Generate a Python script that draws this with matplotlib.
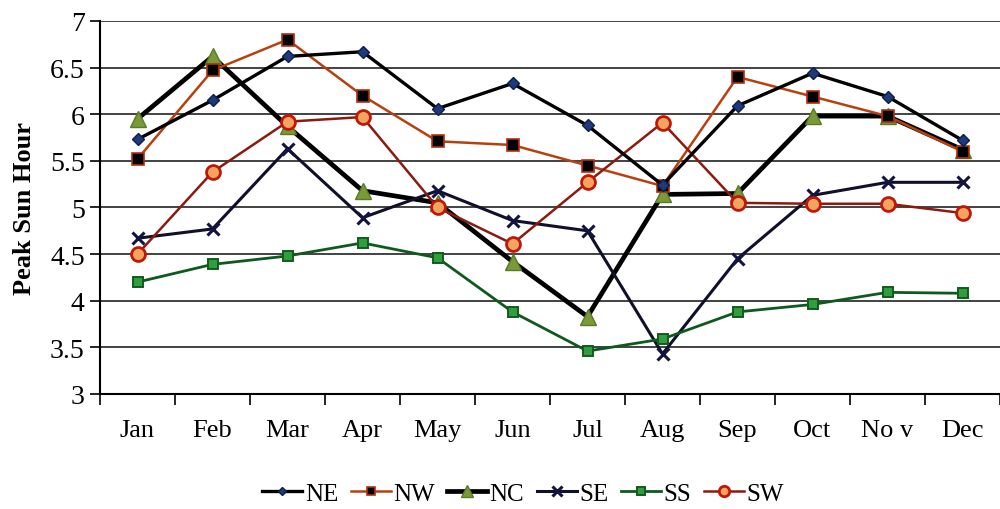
import matplotlib
matplotlib.use("Agg")
import matplotlib.pyplot as plt
import numpy as np

# months along the x axis
months = ["Jan", "Feb", "Mar", "Apr", "May", "Jun",
          "Jul", "Aug", "Sep", "Oct", "No v", "Dec"]

# peak sun hours per region
ne = [5.73, 6.15, 6.62, 6.67, 6.06, 6.33, 5.88, 5.24, 6.09, 6.44, 6.19, 5.72]
nw = [5.52, 6.47, 6.80, 6.20, 5.71, 5.67, 5.45, 5.23, 6.40, 6.19, 5.98, 5.60]
nc = [5.95, 6.62, 5.87, 5.18, 5.05, 4.42, 3.83, 5.14, 5.15, 5.98, 5.98, 5.62]
se = [4.67, 4.77, 5.63, 4.89, 5.18, 4.86, 4.75, 3.43, 4.45, 5.13, 5.27, 5.27]
ss = [4.20, 4.39, 4.48, 4.62, 4.46, 3.88, 3.46, 3.59, 3.88, 3.96, 4.09, 4.08]
sw = [4.50, 5.38, 5.92, 5.97, 5.00, 4.61, 5.27, 5.91, 5.05, 5.04, 5.04, 4.94]

plt.rcParams["font.family"] = ["Liberation Serif", "DejaVu Serif"]

fig = plt.figure(figsize=(10, 5.1), dpi=100)
ax = fig.add_axes([0.1, 0.2255, 0.9, 0.7314])

x = np.arange(len(months))

# one line per region, styled like the original
ax.plot(x, ne, color="black", lw=2.4, marker="D", ms=6,
        mfc="#1F3A78", mec="#0D1F4A", label="NE", zorder=5)
ax.plot(x, nw, color="#B8400F", lw=1.8, marker="s", ms=8,
        mfc="black", mec="#B03010", mew=1.2, label="NW", zorder=4)
ax.plot(x, nc, color="black", lw=3.4, marker="^", ms=12,
        mfc="#7A9A3A", mec="#5A7A25", label="NC", zorder=3)
ax.plot(x, se, color="#10102A", lw=2.2, marker="x", ms=9, mew=2.2,
        mec="#141440", label="SE", zorder=4)
ax.plot(x, ss, color="#0E5A1E", lw=2.0, marker="s", ms=7,
        mfc="#2E9E3E", mec="#145A20", mew=1.4, label="SS", zorder=4)
ax.plot(x, sw, color="#8B1A10", lw=1.8, marker="o", ms=10,
        mfc="#F4A460", mec="#C01808", mew=2.0, label="SW", zorder=4)

# axes limits and grid
ax.set_xlim(-0.5, len(months) - 0.5)
ax.set_ylim(3, 7)
ax.set_yticks(np.arange(3, 7.01, 0.5))
ax.set_yticklabels(["3", "3.5", "4", "4.5", "5", "5.5", "6", "6.5", "7"],
                   fontsize=20)
ax.yaxis.grid(True, color="#222222", lw=1.2)
ax.set_axisbelow(True)

# category ticks sit between the months
ax.set_xticks(np.arange(-0.5, len(months), 1.0))
ax.set_xticklabels([])
ax.set_xticks(x, minor=True)
ax.set_xticklabels(months, minor=True, fontsize=19)
ax.tick_params(axis="x", which="major", length=8, width=1.2, direction="out")
ax.tick_params(axis="x", which="minor", length=0, pad=18)
ax.tick_params(axis="y", length=7, width=1.2, pad=4)

for side in ["top", "right"]:
    ax.spines[side].set_visible(False)
ax.spines["left"].set_linewidth(1.5)
ax.spines["bottom"].set_linewidth(1.5)

ax.set_ylabel("Peak Sun Hour", fontsize=19, fontweight="bold", labelpad=10)

# legend below the plot
ax.legend(loc="center", bbox_to_anchor=(0.47, -0.268), ncol=6, frameon=False,
          fontsize=18, handlelength=1.6, handletextpad=0.1, columnspacing=0.5,
          markerscale=0.75)

fig.savefig("out.png", dpi=100)
